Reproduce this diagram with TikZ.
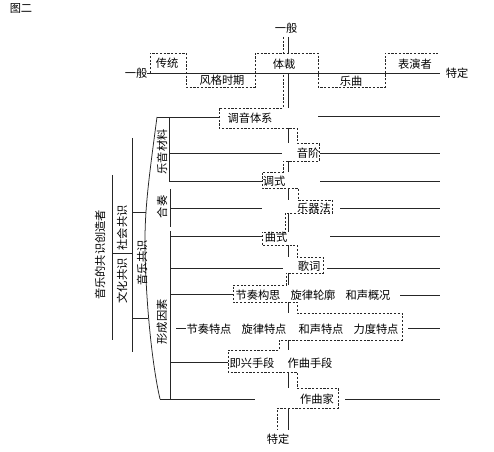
\documentclass[tikz,border=0pt]{standalone}
\usepackage{fontspec}
\newfontfamily\cjk{Noto Sans CJK SC}
\usetikzlibrary{positioning}

\begin{document}
\begin{tikzpicture}[
  x=0.03cm, y=-0.03cm,
  lbl/.style={inner sep=0pt, font=\cjk\fontsize{9.6}{11}\selectfont, text=black},
  vlbl/.style={lbl, rotate=90},
  ln/.style={line width=0.65pt, color=black!85},
  zig/.style={line width=0.65pt, color=black!85, dash pattern=on 1.8pt off 1.4pt}
]
\useasboundingbox (0,0) rectangle (494,452);

\node[lbl] (title) at (21,8) {图二};

% top axis
\node[lbl] (gen1) at (136,73) {一般};
\node[lbl] (spec1) at (457,73) {特定};
\node[lbl] (chuantong) at (167,63) {传统};
\node[lbl] (fengge) at (222,80) {风格时期};
\node[lbl] (ticai) at (284,64) {体裁};
\node[lbl] (yuequ) at (351,81) {乐曲};
\node[lbl] (biaoyan) at (415,64) {表演者};
\draw[ln, shorten >=1.8mm] (gen1) -- (spec1);
\draw[zig] (150,73) |- (186,53) |- (255,87) |- (318,53) |- (385,87) |- (440,53);

% vertical axis
\node[lbl] (gen2) at (286,28) {一般};
\node[lbl] (spec2) at (278,439) {特定};
\foreach \ya/\yb in {37/53, 73/108, 128/143, 161/172, 188/200, 213/232, 245/257, 273/285, 302/313, 340/350, 372/388, 408/430}
  \draw[ln] (288,\ya) -- (288,\yb);
\draw[zig] (283,37) -- (283,53);
\draw[zig] (283,75) |- (219,108) |- (297,128) |- (319,143) |- (283,161) |- (262,172)
  |- (298,188) |- (332,200) |- (285,213) |- (262,232) |- (297,245) |- (323,257)
  |- (286,273) |- (233,285) |- (297,302) |- (402,313) |- (279,340) |- (228,350)
  |- (297,372) |- (338,388) |- (277,408) -- (277,430);

% rows
\node[lbl] (tiaoyin) at (250,118) {调音体系};
\node[lbl] (yinjie) at (308,153) {音阶};
\node[lbl] (diaoshi) at (274,181) {调式};
\node[lbl] (yueqi) at (314,208) {乐器法};
\node[lbl] (qushi) at (276,237) {曲式};
\node[lbl] (geci) at (309,266) {歌词};
\node[lbl] (jzgs) at (258,295) {节奏构思};
\node[lbl] (xllk) at (313,295) {旋律轮廓};
\node[lbl] (hsgk) at (368,295) {和声概况};
\node[lbl] (jztd) at (209,329) {节奏特点};
\node[lbl] (xltd) at (264,329) {旋律特点};
\node[lbl] (hstd) at (321,329) {和声特点};
\node[lbl] (ldtd) at (376,329) {力度特点};
\node[lbl] (jixing) at (252,363) {即兴手段};
\node[lbl] (zuoqu) at (310,363) {作曲手段};
\node[lbl] (zuoqujia) at (317,399) {作曲家};

% lines to the right
\foreach \xa/\yy in {318/116, 320/153, 320/181, 340/208, 330/236, 327/268, 400/295, 408/328, 345/399}
  \draw[ln] (\xa,\yy) -- (440,\yy);
% lines to the left
\foreach \xa/\xb/\yy in {169/282/153, 169/262/181, 170/262/208, 170/262/236, 170/283/268, 170/233/294, 176/186/328, 170/228/362}
  \draw[ln] (\xa,\yy) -- (\xb,\yy);

% brackets
\draw[ln] (157,117) .. controls (150,170) and (145,205) .. (145,240)
  .. controls (145,290) and (151,360) .. (160,399);
\draw[ln] (157,117) -- (219,117);
\draw[ln] (160,399) -- (255,399);
\draw[ln] (169,117) -- (169,182);
\draw[ln] (170,189) -- (170,227);
\draw[ln] (170,231) -- (170,399);
\node[vlbl] (yueyin) at (162,152) {乐音材料};
\node[vlbl] (hezou) at (162,207) {合奏};
\node[vlbl] (xingcheng) at (162,322) {形成因素};

\node[vlbl] (yinyue) at (142,263) {音乐共识};
\draw[ln] (132,212) -- (146,212);
\draw[ln] (132,318) -- (148,318);
\draw[ln] (132,138) -- (132,352);
\node[vlbl] (shehui) at (122,228) {社会共识};
\node[vlbl] (wenhua) at (122,281) {文化共识};
\draw[ln] (112,253) -- (132,253);
\draw[ln] (112,175) -- (112,340);
\node[vlbl] (chuangzao) at (100,255) {音乐的共识创造者};
\end{tikzpicture}
\end{document}
